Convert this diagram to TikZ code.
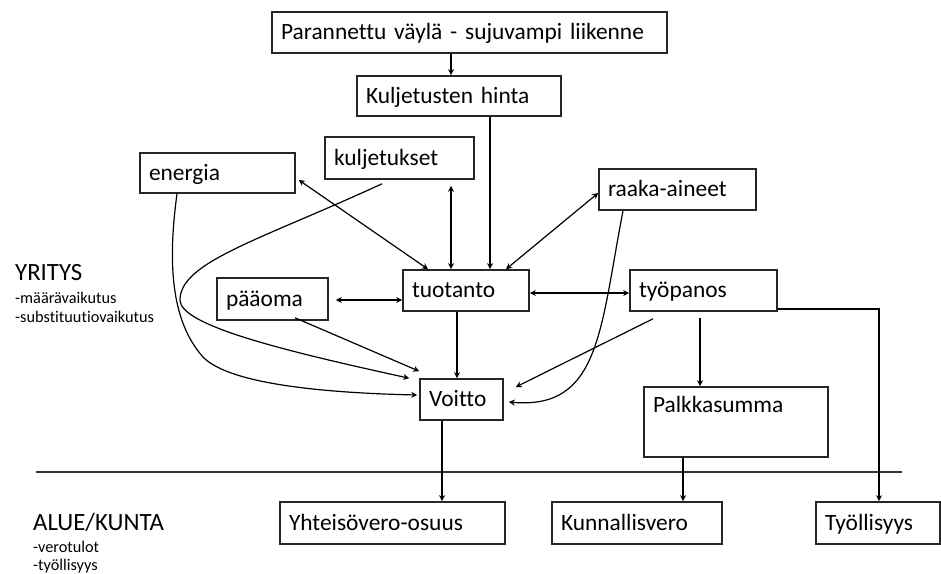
\documentclass[tikz,border=0pt]{standalone}
\usepackage{fontspec}
\setmainfont{Carlito}[Ligatures=NoCommon]
\usetikzlibrary{arrows.meta}
\tikzset{
  bx/.style={draw=black!85, line width=1.6pt, inner xsep=9pt, inner ysep=0pt,
    align=left, font=\fontsize{23.4}{27}\selectfont, text height=16pt, text depth=2pt},
  tip/.tip={Stealth[length=6pt,width=6pt]},
  arr/.style={line width=1.2pt, -tip},
  darr/.style={line width=1.2pt, tip-tip},
  ln/.style={line width=1.2pt},
  lbl/.style={inner sep=0pt, font=\fontsize{24.8}{28}\selectfont, anchor=base west},
  sm/.style={inner sep=0pt, font=\fontsize{16.3}{19}\selectfont, anchor=base west},
}
\begin{document}
\begin{tikzpicture}[x=1pt,y=-1pt]
\fill[white] (0,0) rectangle (941,573);
\useasboundingbox (0,0) rectangle (941,573);

% boxes
\node[bx, text width=377pt, minimum height=41pt] (top) at (469.5,32.5) {Parannettu väylä - sujuvampi liikenne};
\node[bx, text width=186pt, minimum height=40pt] (kh) at (459,96) {Kuljetusten hinta};
\node[bx, text width=137pt, minimum height=40pt] (en) at (217.5,173) {energia};
\node[bx, text width=131pt, minimum height=42pt] (ku) at (399.5,158) {kuljetukset};
\node[bx, text width=139pt, minimum height=41pt] (ra) at (677.5,189.5) {raaka-aineet};
\node[bx, text width=108pt, minimum height=41pt] (tu) at (466,290.5) {tuotanto};
\node[bx, text width=93pt, minimum height=42pt] (pa) at (272.5,299) {pääoma};
\node[bx, text width=129pt, minimum height=41pt] (ty) at (703.5,290.5) {työpanos};
\node[bx, text width=65pt, minimum height=41pt] (vo) at (461.5,399.5) {Voitto};
\node[bx, text width=166pt, minimum height=70pt, text height=25pt, text depth=45pt] (pk) at (736,422) {Palkkasumma};
\node[bx, text width=207pt, minimum height=42pt] (yh) at (392.5,523) {Yhteisövero-osuus};
\node[bx, text width=152pt, minimum height=42pt] (kn) at (637,523) {Kunnallisvero};
\node[bx, text width=106pt, minimum height=42pt] (tl) at (878,523) {Työllisyys};

% labels
\node[lbl] (yr) at (15,280) {YRITYS};
\node[sm] (yr1) at (15,303) {-määrävaikutus};
\node[sm] (yr2) at (15,322) {-substituutiovaikutus};
\node[lbl] (al) at (33,530) {ALUE/KUNTA};
\node[sm] (al1) at (33,552) {-verotulot};
\node[sm] (al2) at (33,570) {-työllisyys};

% separator
\coordinate (sepL) at (36,472);
\coordinate (sepR) at (902,472);
\draw[line width=1.6pt, black!80] (sepL) -- (sepR);

% connectors
\draw[arr] ([xshift=-18.5pt]top.south) -- ([xshift=-8pt]kh.north);
\draw[arr] ([xshift=31pt]kh.south) -- ([xshift=24pt]tu.north);
\draw[darr] ([xshift=51.5pt,yshift=-6pt]ku.south) -- ([xshift=-15pt]tu.north);
\draw[darr] ([xshift=3pt,yshift=-7pt]en.east) -- ([xshift=-38pt]tu.north);
\draw[darr] ([xshift=40pt]tu.north) -- ([yshift=-3.5pt]ra.west);
\draw[darr] ([xshift=7pt,yshift=-1pt]pa.east) -- ([yshift=-9.5pt]tu.west);
\draw[darr] ([yshift=-2.5pt]tu.east) -- ([yshift=-2.5pt]ty.west);
\draw[arr] ([xshift=-9pt]tu.south) -- ([xshift=-4.5pt]vo.north);
\draw[arr] ([xshift=22.5pt,yshift=3pt]pa.south) -- ([yshift=7pt]vo.north west);
\draw[arr] ([xshift=-17.5pt,yshift=-4pt]ku.south) .. controls (260,240) and (180,262) .. (180,300)
  .. controls (180,325) and (280,350) .. ([xshift=-10pt]vo.north west);
\draw[arr] ([xshift=-40.5pt]en.south) .. controls (168,260) and (170,320) .. (203,357)
  .. controls (230,385) and (330,393) .. ([xshift=-2pt,yshift=4.5pt]vo.west);
\draw[arr] ([xshift=-54.5pt]ra.south) .. controls (600,330) and (600,410) .. ([xshift=5pt,yshift=-2.5pt]vo.east);
\draw[arr] ([xshift=-50.5pt,yshift=-7pt]ty.south) -- ([xshift=12pt,yshift=12.5pt]vo.east);
\draw[arr] ([xshift=-3.5pt,yshift=-6pt]ty.south) -- ([xshift=-36pt]pk.north);
\draw[arr] ([yshift=-18.5pt]ty.east) -| ([xshift=1pt]tl.north);
\draw[arr] ([xshift=-19.5pt]vo.south) -- ([xshift=49.5pt]yh.north);
\draw[arr] ([xshift=-53pt]pk.south) -- ([xshift=46pt]kn.north);
\end{tikzpicture}
\end{document}
